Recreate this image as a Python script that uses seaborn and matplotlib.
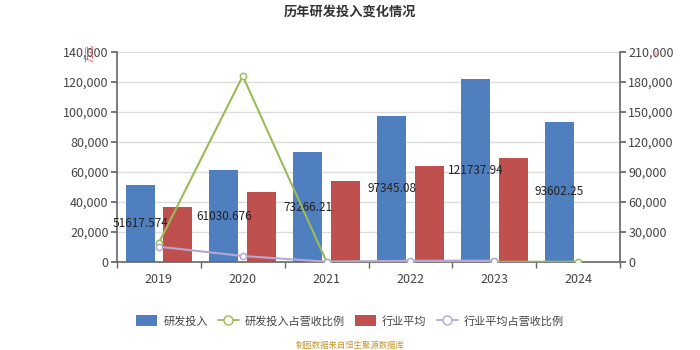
import matplotlib
matplotlib.use("Agg")
import matplotlib.pyplot as plt
import seaborn as sns
import pandas as pd
import numpy as np
from matplotlib.lines import Line2D
from matplotlib.patches import Patch
from matplotlib.ticker import FuncFormatter, MultipleLocator

years = ["2019", "2020", "2021", "2022", "2023", "2024"]
rd_invest = [51617.574, 61030.676, 73266.21, 97345.08, 121737.94, 93602.25]
rd_labels = ["51617.574", "61030.676", "73266.21", "97345.08", "121737.94", "93602.25"]
industry_avg = [36700, 46500, 54000, 64200, 69300, np.nan]
rd_ratio = [19300, 186000, 300, 300, 300, 300]
industry_ratio = [15300, 6000, 300, 1300, 1300, np.nan]

sns.set_theme(style="white")
plt.rcParams['font.family'] = ['Noto Sans CJK SC', 'DejaVu Sans']

C_BLUE = "#4F7FBF"
C_RED = "#C0504D"
C_GREEN = "#9BBB59"
C_PURPLE = "#B7A7D3"
C_TXT = "#444444"

fig = plt.figure(figsize=(7, 3.5), dpi=100)
ax = fig.add_axes([117/700, 88/350, 503/700, 210/350])

bars = pd.DataFrame({
    "year": years * 2,
    "value": rd_invest + industry_avg,
    "series": ["研发投入"] * 6 + ["行业平均"] * 6,
})
sns.barplot(data=bars, x="year", y="value", hue="series", order=years,
            hue_order=["研发投入", "行业平均"], palette=[C_BLUE, C_RED],
            width=0.9, gap=0.23, ax=ax, legend=False, saturation=1,
            edgecolor="none")

ax.set_xlim(-0.5, 5.5)
ax.set_ylim(0, 140000)
ax.yaxis.set_major_locator(MultipleLocator(20000))
ax.yaxis.set_major_formatter(FuncFormatter(lambda v, p: f"{int(v):,}"))
ax.grid(axis="y", color="#DDDDDD", linewidth=1)
ax.set_axisbelow(True)
ax.set_xlabel("")
ax.set_ylabel("")
for s in ["top", "right"]:
    ax.spines[s].set_visible(False)
for s in ["left", "bottom"]:
    ax.spines[s].set_color("#666666")
    ax.spines[s].set_linewidth(1.2)
ax.tick_params(axis="y", left=True, length=4, color="#666666", labelsize=9, labelcolor=C_TXT, pad=2)
ax.tick_params(axis="x", bottom=False, labelsize=9, labelcolor=C_TXT, pad=2)
ax.set_xticks(np.arange(-0.5, 6.0, 1.0), minor=True)
ax.tick_params(axis="x", which="minor", bottom=True, length=4, color="#666666")

# value labels at the middle of the blue bars
for i, (v, lab) in enumerate(zip(rd_invest, rd_labels)):
    ax.text(i - 0.225, v / 2, lab, ha="center", va="center", fontsize=8.5, color="#222222")

ax2 = ax.twinx()
lines = pd.DataFrame({"x": np.arange(6), "rd": rd_ratio, "ind": industry_ratio})
sns.lineplot(data=lines, x="x", y="rd", ax=ax2, color=C_GREEN, linewidth=1.5,
             marker="o", markersize=4.5, markerfacecolor="white",
             markeredgecolor=C_GREEN, markeredgewidth=1.1)
sns.lineplot(data=lines.dropna(), x="x", y="ind", ax=ax2, color=C_PURPLE, linewidth=1.5,
             marker="o", markersize=4.5, markerfacecolor="white",
             markeredgecolor=C_PURPLE, markeredgewidth=1.1)
ax2.set_xlim(-0.5, 5.5)
ax2.set_ylim(0, 210000)
ax2.yaxis.set_major_locator(MultipleLocator(30000))
ax2.yaxis.set_major_formatter(FuncFormatter(lambda v, p: f"{int(v):,}"))
ax2.set_xlabel("")
ax2.set_ylabel("")
ax2.grid(False)
for s in ["top", "left", "bottom"]:
    ax2.spines[s].set_visible(False)
ax2.spines["right"].set_color("#666666")
ax2.spines["right"].set_linewidth(1.2)
ax2.tick_params(axis="y", right=True, length=4, color="#666666", labelsize=9, labelcolor=C_TXT, pad=2)

fig.text(0.5, 1 - 12/350, "历年研发投入变化情况", ha="center", va="center",
         fontsize=9.5, fontweight="bold", color="#333333")
fig.text(91/700, 1 - 53/350, "万元", ha="center", va="center", rotation=90,
         fontsize=6.5, color="#FF3333")
fig.text(658/700, 1 - 54/350, "%", ha="center", va="center", rotation=90,
         fontsize=5.5, color="#FF6666")

handles = [
    Patch(facecolor=C_BLUE, edgecolor="none"),
    Line2D([0], [0], color=C_GREEN, linewidth=1.3, marker="o", markersize=6.5,
           markerfacecolor="white", markeredgecolor=C_GREEN),
    Patch(facecolor=C_RED, edgecolor="none"),
    Line2D([0], [0], color=C_PURPLE, linewidth=1.3, marker="o", markersize=6.5,
           markerfacecolor="white", markeredgecolor=C_PURPLE),
]
labels = ["研发投入", "研发投入占营收比例", "行业平均", "行业平均占营收比例"]
fig.legend(handles, labels, loc="center", bbox_to_anchor=(0.5, 1 - 321/350), ncol=4,
           frameon=False, fontsize=8, handlelength=1.9, handleheight=1.1,
           columnspacing=0.9, handletextpad=0.55, labelcolor=C_TXT)
fig.text(0.5, 1 - 345/350, "制图数据来自恒生聚源数据库", ha="center", va="center",
         fontsize=6, color="#C8962E")

fig.savefig("out.png", dpi=100)
